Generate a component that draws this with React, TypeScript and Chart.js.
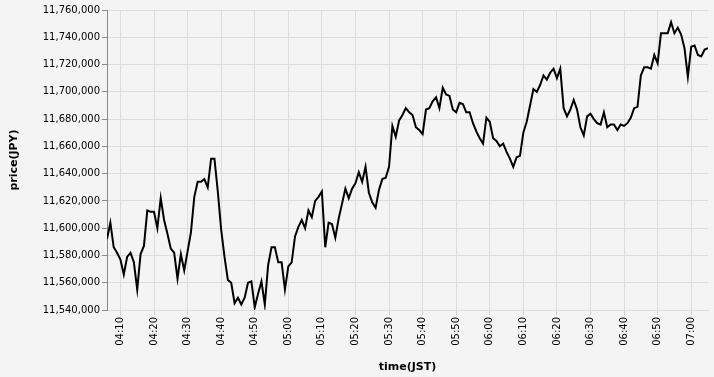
import React, { useEffect, useRef } from "react";
import { Chart, registerables } from "chart.js";

Chart.register(...registerables);

// ---- data ----
const START_TIME = "04:06"; // first sample, one sample per minute
const PRICES = [
  11592000, 11604000, 11586000, 11582000, 11577000, 11566000, 11579000, 11582000, 11575000, 11555000,
  11581000, 11587000, 11613000, 11612000, 11612000, 11600000, 11622000, 11606000, 11596000, 11585000,
  11582000, 11563000, 11581000, 11569000, 11583000, 11597000, 11623000, 11634000, 11634000, 11636000,
  11630000, 11651000, 11651000, 11627000, 11599000, 11579000, 11562000, 11560000, 11545000, 11549000,
  11544000, 11549000, 11560000, 11561000, 11542000, 11552000, 11561000, 11544000, 11573000, 11586000,
  11586000, 11575000, 11575000, 11555000, 11572000, 11575000, 11594000, 11601000, 11606000, 11600000,
  11613000, 11608000, 11620000, 11623000, 11627000, 11586000, 11604000, 11603000, 11593000, 11607000,
  11618000, 11629000, 11622000, 11629000, 11633000, 11641000, 11634000, 11645000, 11626000, 11619000,
  11615000, 11628000, 11636000, 11637000, 11645000, 11675000, 11667000, 11679000, 11683000, 11688000,
  11685000, 11683000, 11674000, 11672000, 11669000, 11687000, 11688000, 11693000, 11696000, 11688000,
  11703000, 11698000, 11697000, 11687000, 11685000, 11692000, 11691000, 11685000, 11685000, 11677000,
  11671000, 11666000, 11662000, 11681000, 11678000, 11666000, 11664000, 11660000, 11662000, 11656000,
  11651000, 11645000, 11652000, 11653000, 11670000, 11678000, 11690000, 11702000, 11700000, 11705000,
  11712000, 11709000, 11714000, 11717000, 11710000, 11717000, 11688000, 11682000, 11687000, 11694000,
  11687000, 11674000, 11668000, 11682000, 11684000, 11680000, 11677000, 11676000, 11685000, 11674000,
  11676000, 11676000, 11672000, 11676000, 11675000, 11677000, 11681000, 11688000, 11689000, 11712000,
  11718000, 11718000, 11717000, 11727000, 11721000, 11743000, 11743000, 11743000, 11751000, 11743000,
  11747000, 11742000, 11732000, 11711000, 11733000, 11734000, 11727000, 11726000, 11731000, 11732000,
];
const X_TICK_LABELS = [
  "04:10", "04:20", "04:30", "04:40", "04:50", "05:00", "05:10", "05:20", "05:30",
  "05:40", "05:50", "06:00", "06:10", "06:20", "06:30", "06:40", "06:50", "07:00",
];
const Y_MIN = 11540000;
const Y_MAX = 11760000;
const Y_STEP = 20000;
const X_TITLE = "time(JST)";
const Y_TITLE = "price(JPY)";

const toMin = (s: string) => {
  const [h, m] = s.split(":").map(Number);
  return h * 60 + m;
};
const fmt = (v: number) =>
  `${String(Math.floor(v / 60)).padStart(2, "0")}:${String(Math.round(v) % 60).padStart(2, "0")}`;
const TIMES = PRICES.map((_, i) => fmt(toMin(START_TIME) + i));

const FONT = "'DejaVu Sans', sans-serif";
const BG = "#f4f4f4";

export default function App() {
  const ref = useRef<HTMLCanvasElement | null>(null);

  useEffect(() => {
    document.body.style.margin = "0";
    document.body.style.background = BG;
    const canvas = ref.current;
    if (!canvas) return;
    const chart = new Chart(canvas, {
      type: "line",
      data: {
        datasets: [
          {
            data: PRICES.map((p, i) => ({ x: toMin(TIMES[i]), y: p })),
            borderColor: "#000",
            borderWidth: 2,
            pointRadius: 0,
            tension: 0,
            fill: false,
          },
        ],
      },
      options: {
        responsive: false,
        animation: false,
        layout: { padding: { left: 0, top: 10, right: 6, bottom: 0 } },
        plugins: { legend: { display: false }, tooltip: { enabled: false } },
        scales: {
          x: {
            type: "linear",
            min: toMin(TIMES[0]),
            max: toMin(TIMES[TIMES.length - 1]),
            afterBuildTicks: (scale: any) => {
              scale.ticks = X_TICK_LABELS.map((l) => ({ value: toMin(l) }));
            },
            afterFit: (scale: any) => {
              scale.height = 67;
            },
            ticks: {
              autoSkip: false,
              maxRotation: 90,
              minRotation: 90,
              padding: 2,
              color: "#000",
              font: { family: FONT, size: 10 },
              callback: (v: any) => fmt(Number(v)),
            },
            grid: { color: "#ddd", tickColor: "#ccc", tickLength: 5, lineWidth: 1 },
            border: { display: true, color: "#ddd" },
            title: {
              display: true,
              text: X_TITLE,
              color: "#000",
              font: { family: FONT, size: 11, weight: "bold" },
              padding: { top: 0, bottom: 3.4 },
            },
          },
          y: {
            min: Y_MIN,
            max: Y_MAX,
            afterFit: (scale: any) => {
              scale.width = 107;
            },
            ticks: {
              stepSize: Y_STEP,
              padding: 2,
              color: "#000",
              font: { family: FONT, size: 10 },
              callback: (v: any) => Number(v).toLocaleString("en-US"),
            },
            grid: { color: "#ddd", tickColor: "#888", tickLength: 5, lineWidth: 1 },
            border: { display: true, color: "#888" },
            title: {
              display: true,
              text: Y_TITLE,
              color: "#000",
              font: { family: FONT, size: 11, weight: "bold" },
              padding: { top: 8, bottom: 0 },
            },
          },
        },
      },
    } as any);
    return () => chart.destroy();
  }, []);

  return (
    <div style={{ width: 714, height: 377, background: BG }}>
      <canvas ref={ref} width={714} height={377} style={{ display: "block" }} />
    </div>
  );
}
